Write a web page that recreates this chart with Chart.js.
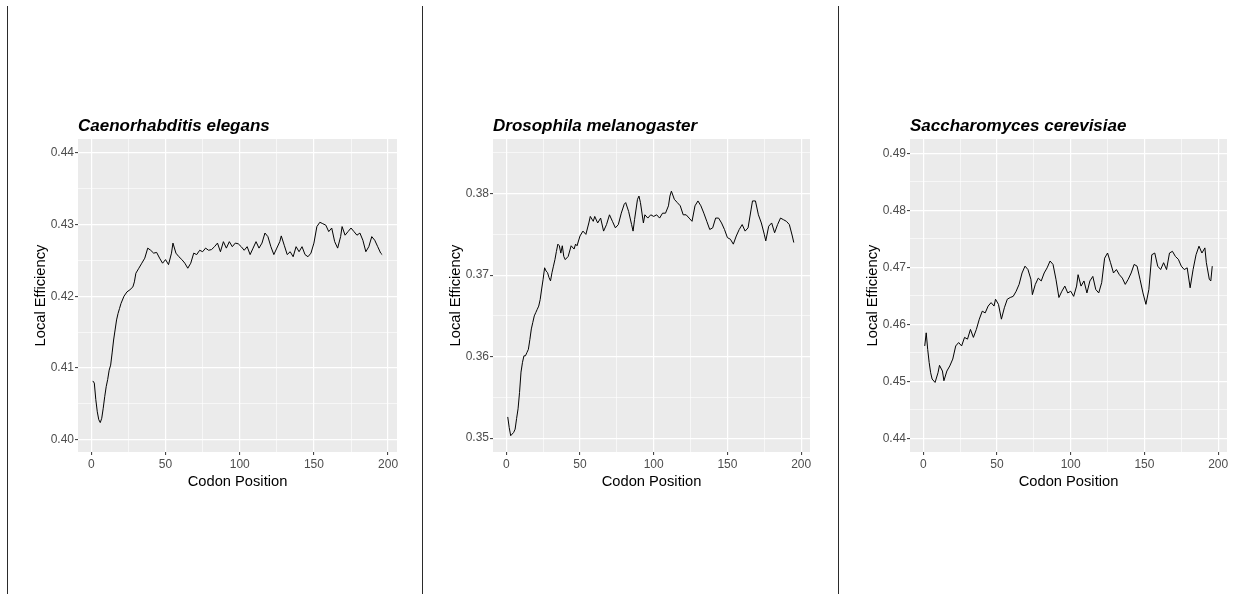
<!DOCTYPE html>
<html>
<head>
<meta charset="utf-8">
<script src="https://cdn.jsdelivr.net/npm/chart.js@4.4.1/dist/chart.umd.min.js"></script>
<style>
  html, body { margin: 0; padding: 0; background: #fff; overflow: hidden; }
  body { width: 1233px; height: 594px; position: relative; }
  .divider { position: absolute; top: 6px; bottom: 0; width: 1px; background: #2b2b2b; }
  canvas { position: absolute; top: 0; width: 410px; height: 594px; }
</style>
</head>
<body>
<div class="divider" style="left:7px"></div>
<div class="divider" style="left:422px"></div>
<div class="divider" style="left:838px"></div>
<canvas id="ceChart" width="410" height="594" style="left:10px"></canvas>
<canvas id="dmChart" width="410" height="594" style="left:425px"></canvas>
<canvas id="scChart" width="410" height="594" style="left:842px"></canvas>
<script>
const FONT = '"Liberation Sans", Arial, sans-serif';

// shared x axis (codon position)
const xMajor = [0, 50, 100, 150, 200];
const xMinor = [25, 75, 125, 175];
const xRange = [-9, 206];

// Caenorhabditis elegans
const ceTitle = 'Caenorhabditis elegans';
const ceYMajor = [0.40, 0.41, 0.42, 0.43, 0.44];
const ceYMinor = [0.405, 0.415, 0.425, 0.435];
const ceYRange = [0.3983, 0.4419];
const cePositions = [1, 2, 3, 4, 5, 6, 7, 8, 9, 10, 11, 12, 13, 14, 15, 16, 17, 18, 19, 20,
    22, 24, 26, 28, 29, 30, 32, 34, 36, 38, 40, 42, 44, 46, 48, 50, 52, 54,
    55, 57, 59, 61, 63, 65, 67, 69, 71, 73, 75, 77, 79, 81, 83, 85, 87, 89, 91, 93, 95, 97, 99,
    101, 103, 105, 107, 109, 111, 113, 115, 117, 119, 121, 123, 125, 127, 128,
    130, 132, 134, 136, 138, 140, 142, 144, 146, 148, 150, 152, 154, 156, 158, 160, 162, 164, 166, 168,
    169, 171, 173, 175, 177, 179, 181, 183, 185, 187, 189, 191, 193, 195, 196];
const ceValues = [.4082, .4079, .4056, .4039, .4028, .4024, .4030, .4044, .4060, .4074,
    .4084, .4097, .4104, .4121, .4139, .4153, .4167, .4176, .4183, .4190,
    .4200, .4206, .4209, .4213, .4220, .4232,
    .4239, .4246, .4253, .4267, .4264, .4260, .4261, .4253, .4246, .4251, .4244, .4260,
    .4274, .4260, .4255, .4251, .4246, .4239, .4246, .4260, .4258, .4264, .4262, .4267, .4264, .4265,
    .4269, .4274, .4262, .4276, .4267, .4276, .4269, .4274, .4273, .4269, .4264, .4269, .4258, .4267,
    .4276, .4267, .4274, .4288, .4283, .4269, .4258, .4267, .4276, .4284,
    .4271, .4258, .4262, .4255, .4269, .4262, .4269, .4258, .4255, .4260,
    .4274, .4297, .4303, .4301, .4299, .4290, .4295, .4276, .4267, .4283,
    .4297, .4285, .4290, .4295, .4290, .4285, .4288, .4278, .4262, .4269, .4283, .4278, .4269, .4260, .4258];

// Drosophila melanogaster
const dmTitle = 'Drosophila melanogaster';
const dmYMajor = [0.35, 0.36, 0.37, 0.38];
const dmYMinor = [0.355, 0.365, 0.375, 0.385];
const dmYRange = [0.3483, 0.3867];
const dmPositions = [1, 2, 3, 4, 5, 6, 7, 8, 9, 10, 11, 12, 13, 14, 15, 16, 17, 18, 19, 20,
    21, 22, 23, 24, 25, 26, 27, 28, 29, 30, 31, 32, 33, 34, 35, 36, 37, 38, 39, 40,
    42, 44, 46, 47, 48, 50, 52, 54, 56, 57, 59, 60,
    62, 64, 66, 68, 70, 72, 74, 76, 78, 80, 81, 83, 85, 86, 87, 89, 90, 91, 93, 94,
    96, 98, 100, 102, 104, 106, 108, 110, 111, 112,
    114, 116, 118, 120, 122, 124, 126, 128, 130, 132, 134, 136, 138, 140, 142, 144, 146, 148, 150, 152,
    154, 156, 158, 160, 162, 164, 166, 167, 169, 171, 173, 175, 176,
    178, 180, 182, 184, 186, 188, 190, 192, 194, 195];
const dmValues = [.3526, .3513, .3503, .3505, .3507, .3511, .3524, .3536, .3556, .3581,
    .3593, .3601, .3601, .3605, .3609, .3621, .3634, .3642, .3650, .3654,
    .3658, .3662, .3670, .3683, .3695, .3709, .3705, .3703, .3697, .3693,
    .3703, .3711, .3719, .3729, .3738, .3736, .3727, .3736, .3723, .3719,
    .3723, .3736, .3732, .3738, .3736, .3748, .3754, .3750, .3764, .3772, .3766, .3772,
    .3764, .3770, .3754, .3762, .3774, .3766, .3758, .3762, .3776, .3787, .3789, .3778, .3762, .3754, .3768,
    .3793, .3797, .3789, .3764, .3774,
    .3770, .3774, .3772, .3774, .3770, .3776, .3776, .3785, .3797, .3803,
    .3793, .3789, .3785, .3774, .3774, .3770, .3766, .3785, .3791, .3785,
    .3776, .3766, .3756, .3758, .3770, .3770, .3764, .3756, .3746, .3744,
    .3738, .3748, .3756, .3762, .3754, .3758, .3780, .3791, .3791, .3774, .3764, .3750, .3742,
    .3760, .3764, .3752, .3762, .3770, .3768, .3766, .3762, .3748, .3740];

// Saccharomyces cerevisiae
const scTitle = 'Saccharomyces cerevisiae';
const scYMajor = [0.44, 0.45, 0.46, 0.47, 0.48, 0.49];
const scYMinor = [0.445, 0.455, 0.465, 0.475, 0.485];
const scYRange = [0.4376, 0.4925];
const scPositions = [1, 2, 3, 4, 5, 6, 8, 10, 11, 13, 14, 16,
    18, 20, 22, 24, 26, 28, 30, 32, 34, 36, 38, 40, 42, 44, 46, 48, 49,
    51, 53, 55, 57, 59, 61, 63, 65, 67, 69, 71, 73, 74,
    76, 78, 80, 82, 84, 86, 88, 90, 92, 94, 96, 98, 100, 102, 104, 105,
    107, 109, 111, 113, 115, 117, 119, 121, 123, 125, 127, 129, 131, 133, 135, 137, 139, 141, 143, 145,
    147, 149, 151, 153, 155, 157, 159, 161, 163, 165, 167, 169, 171, 173, 175, 177, 179, 181, 183, 185,
    187, 189, 191, 192, 194, 195, 196];
const scValues = [.4562, .4585, .4556, .4533, .4515, .4504, .4498, .4515, .4528, .4518, .4501, .4518,
    .4527, .4539, .4562, .4568, .4562, .4577, .4574, .4591, .4577, .4591, .4609, .4623, .4620, .4632, .4638, .4632, .4644,
    .4635, .4609, .4629, .4644, .4647, .4649, .4658, .4670, .4690, .4702, .4696, .4679, .4652,
    .4670, .4681, .4676, .4690, .4699, .4711, .4705, .4679, .4647, .4658, .4667, .4655, .4658, .4649, .4667, .4687,
    .4667, .4676, .4655, .4676, .4684, .4661, .4655, .4673, .4716, .4725, .4708, .4690, .4696, .4687, .4681, .4670, .4679, .4690, .4705, .4702,
    .4679, .4655, .4635, .4661, .4722, .4725, .4702, .4696, .4708, .4696, .4725, .4728, .4719, .4714, .4702, .4696, .4699, .4664, .4696, .4722,
    .4737, .4725, .4734, .4708, .4679, .4676, .4702];

// grey panel behind the plotting area
const panelBackground = {
    id: 'panelBackground',
    beforeDraw(chart) {
        const { ctx, chartArea } = chart;
        ctx.save();
        ctx.fillStyle = '#EBEBEB';
        ctx.fillRect(chartArea.left, chartArea.top, chartArea.right - chartArea.left, chartArea.bottom - chartArea.top);
        ctx.restore();
    }
};

// left-aligned bold italic title above the panel
const panelTitle = {
    id: 'panelTitle',
    afterDraw(chart, args, opts) {
        const { ctx, chartArea } = chart;
        ctx.save();
        ctx.font = 'italic bold 17px ' + FONT;
        ctx.fillStyle = '#000';
        ctx.textBaseline = 'alphabetic';
        ctx.textAlign = 'left';
        ctx.fillText(opts.text, chartArea.left, chartArea.top - 8);
        ctx.restore();
    }
};

function buildTicks(major, minor) {
    return major.map(v => ({ value: v, minor: false }))
        .concat(minor.map(v => ({ value: v, minor: true })))
        .sort((a, b) => a.value - b.value);
}

function gridStyle() {
    return {
        color: '#FFFFFF',
        lineWidth: ctx => (ctx.tick && ctx.tick.minor ? 0.6 : 1.2),
        tickColor: ctx => (ctx.tick && ctx.tick.minor ? 'rgba(0,0,0,0)' : '#333333'),
        tickWidth: 1,
        tickLength: 3
    };
}

function drawPanel(canvasId, title, positions, values, yMajor, yMinor, yRange, rightPad) {
    const points = positions.map((x, i) => ({ x: x, y: values[i] }));
    const ctx = document.getElementById(canvasId).getContext('2d');

    return new Chart(ctx, {
        type: 'line',
        data: {
            datasets: [{
                data: points,
                borderColor: '#000000',
                borderWidth: 1,
                pointRadius: 0,
                tension: 0,
                fill: false
            }]
        },
        options: {
            responsive: false,
            animation: false,
            events: [],
            layout: { padding: { left: 18, top: 139, right: rightPad, bottom: 100 } },
            plugins: {
                legend: { display: false },
                tooltip: { enabled: false },
                panelTitle: { text: title }
            },
            scales: {
                x: {
                    type: 'linear',
                    min: xRange[0],
                    max: xRange[1],
                    afterBuildTicks: s => { s.ticks = buildTicks(xMajor, xMinor); },
                    afterFit: s => { s.height = 42; },
                    border: { display: false },
                    grid: gridStyle(),
                    ticks: {
                        autoSkip: false,
                        maxRotation: 0,
                        padding: 2,
                        color: '#4D4D4D',
                        font: { family: FONT, size: 12 },
                        callback: (value, index, ticks) => (ticks[index].minor ? '' : String(value))
                    },
                    title: {
                        display: true,
                        text: 'Codon Position',
                        color: '#000',
                        font: { family: FONT, size: 14.7 },
                        padding: { top: 0, bottom: 3 }
                    }
                },
                y: {
                    type: 'linear',
                    min: yRange[0],
                    max: yRange[1],
                    afterBuildTicks: s => { s.ticks = buildTicks(yMajor, yMinor); },
                    afterFit: s => { s.width = 50; },
                    border: { display: false },
                    grid: gridStyle(),
                    ticks: {
                        autoSkip: false,
                        padding: 1,
                        color: '#4D4D4D',
                        font: { family: FONT, size: 12 },
                        callback: (value, index, ticks) => (ticks[index].minor ? '' : value.toFixed(2))
                    },
                    title: {
                        display: true,
                        text: 'Local Efficiency',
                        color: '#000',
                        font: { family: FONT, size: 14.7 },
                        padding: { top: 4, bottom: 0 }
                    }
                }
            }
        },
        plugins: [panelBackground, panelTitle]
    });
}

drawPanel('ceChart', ceTitle, cePositions, ceValues, ceYMajor, ceYMinor, ceYRange, 23);
drawPanel('dmChart', dmTitle, dmPositions, dmValues, dmYMajor, dmYMinor, dmYRange, 25);
drawPanel('scChart', scTitle, scPositions, scValues, scYMajor, scYMinor, scYRange, 25);
</script>
</body>
</html>
